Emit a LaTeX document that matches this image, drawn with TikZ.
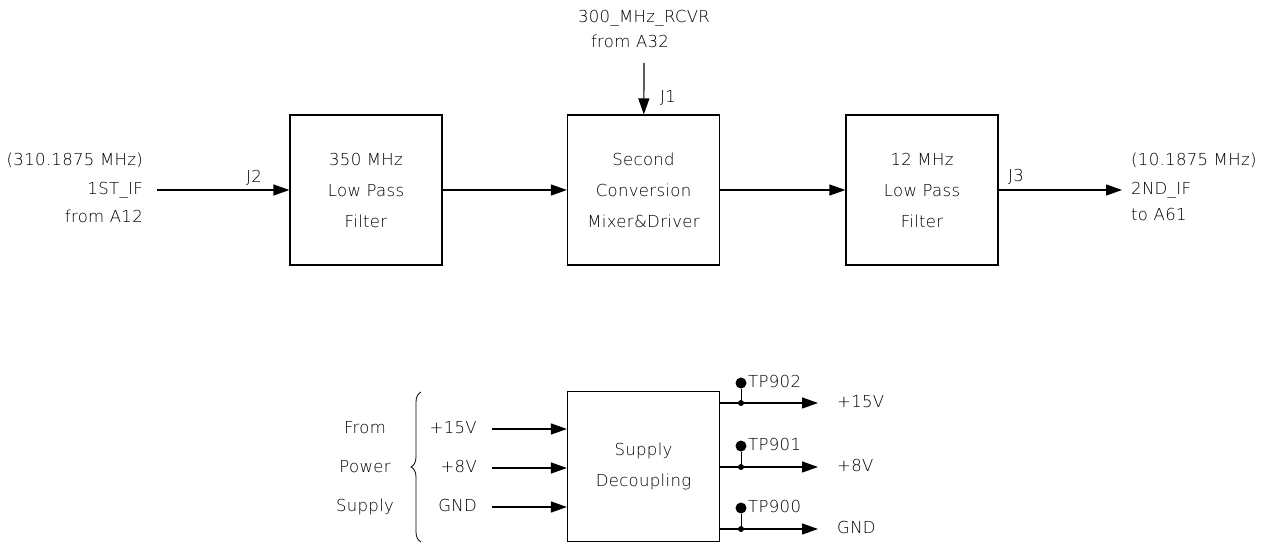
\documentclass[tikz,border=0pt]{standalone}
\usepackage{fontspec}
\setmainfont{DejaVu Sans}[UprightFont=* ExtraLight, LetterSpace=2]
\usetikzlibrary{positioning,arrows.meta,decorations.pathreplacing}

\begin{document}
\begin{tikzpicture}[x=1pt,y=-1pt,
	blk/.style={draw,line width=1.2pt,minimum width=152pt,minimum height=150pt,align=center,font=\fontsize{16.5}{31}\selectfont},
	sig/.style={line width=1.2pt,-{Triangle[length=16pt,width=11pt]}},
	txt/.style={font=\fontsize{16.5}{20}\selectfont,inner sep=0pt,text height=12pt,text depth=3pt},
	tp/.style={circle,fill,inner sep=0pt,minimum size=11pt},
	jn/.style={circle,fill,inner sep=0pt,minimum size=6pt}]
			
			\useasboundingbox (0,0) rectangle (1261,543);
			
			% signal chain
			\node[blk] (lpf350) at (366,190) {350 MHz\\Low Pass\\Filter};
			\node[blk] (mixer) at (643.5,190) {Second\\Conversion\\Mixer\&Driver};
			\node[blk] (lpf12) at (922,190) {12 MHz\\Low Pass\\Filter};
			
			\node[txt,anchor=east] (iffreq) at (143,161) {(310.1875 MHz)};
			\node[txt,anchor=east] (ifone) at (143,190) {1ST\_IF};
			\node[txt,anchor=east] (ifsrc) at (143,218) {from A12};
			\coordinate (ifin) at (157,190);
			\node[txt] (jtwo) at (254,178) {J2};
			
			\node[txt] (rcvr) at (644,18) {300\_MHz\_RCVR};
			\node[txt] (rcvrsrc) at (630,43) {from A32};
			\coordinate (rcvrin) at (644,63);
			\node[txt] (jone) at (668,98) {J1};
			
			\coordinate (ifout) at (1122,190);
			\node[txt] (jthree) at (1016,177) {J3};
			\node[txt,anchor=west] (outfreq) at (1131,161) {(10.1875 MHz)};
			\node[txt,anchor=west] (iftwo) at (1131,190) {2ND\_IF};
			\node[txt,anchor=west] (ifdst) at (1131,216) {to A61};
			
			\draw[sig] (ifin) -- (lpf350);
			\draw[sig] (lpf350) -- (mixer);
			\draw[sig] (mixer) -- (lpf12);
			\draw[sig] (lpf12) -- (ifout);
			\draw[sig] (rcvrin) -- (mixer);
			
			% power
			\node[blk] (decoup) at (643.5,466.5) {Supply\\Decoupling};
			
			\node[txt] (from) at (365,429) {From};
			\node[txt] (power) at (365,468) {Power};
			\node[txt] (supply) at (365,507) {Supply};
			\draw[line width=0.8pt,decorate,decoration={brace,amplitude=10pt}] (421,542) -- (421,392);
			
			\node[txt,anchor=east] (vinhi) at (477,429) {+15V};
			\node[txt,anchor=east] (vinlo) at (477,468) {+8V};
			\node[txt,anchor=east] (gndin) at (477,507) {GND};
			\coordinate (pinhi) at (492,429);
			\coordinate (pinlo) at (492,468);
			\coordinate (pgnd) at (492,507);
			\draw[sig] (pinhi) -- (pinhi -| decoup.west);
			\draw[sig] (pinlo) -- (pinlo -| decoup.west);
			\draw[sig] (pgnd) -- (pgnd -| decoup.west);
			
			\coordinate (pouthi) at (818,403);
			\coordinate (poutlo) at (818,467);
			\coordinate (poutgnd) at (818,529);
			\draw[sig] (pouthi -| decoup.east) -- (pouthi);
			\draw[sig] (poutlo -| decoup.east) -- (poutlo);
			\draw[sig] (poutgnd -| decoup.east) -- (poutgnd);
			
			\node[jn] (jnhi) at (741,403) {};
			\node[jn] (jnlo) at (741,467) {};
			\node[jn] (jngnd) at (741,529) {};
			\node[tp] (tpnine02) at (741,383) {};
			\node[tp] (tpnine01) at (741,446) {};
			\node[tp] (tpnine00) at (741,508) {};
			\draw[line width=0.8pt] (tpnine02) -- (jnhi);
			\draw[line width=0.8pt] (tpnine01) -- (jnlo);
			\draw[line width=0.8pt] (tpnine00) -- (jngnd);
			\node[txt,anchor=west] (tptwo) at (748,383) {TP902};
			\node[txt,anchor=west] (tpone) at (748,446) {TP901};
			\node[txt,anchor=west] (tpzero) at (748,508) {TP900};
			
			\node[txt,anchor=west] (vouthi) at (837,403) {+15V};
			\node[txt,anchor=west] (voutlo) at (837,467) {+8V};
			\node[txt,anchor=west] (gndout) at (837,529) {GND};
			
		\end{tikzpicture}
\end{document}
